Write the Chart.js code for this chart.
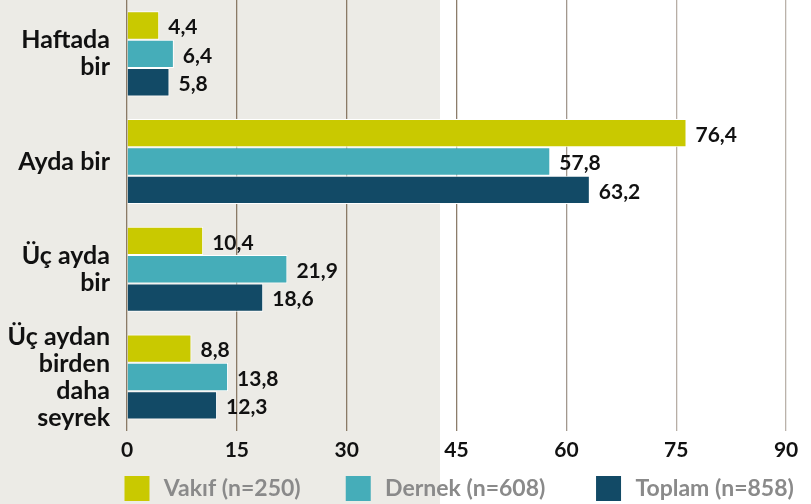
<!DOCTYPE html>
<html>
<head>
<meta charset="utf-8">
<script src="https://cdn.jsdelivr.net/npm/chart.js@4"></script>
<style>
  html, body { margin: 0; padding: 0; background: #fff; }
  #wrap { width: 811px; height: 504px; }
</style>
</head>
<body>
<div id="wrap"><canvas id="chart" width="811" height="504"></canvas></div>
<script>
// categories and series
const categories = [
    ['Haftada', 'bir'],
    ['Ayda bir'],
    ['Üç ayda', 'bir'],
    ['Üç aydan', 'birden', 'daha', 'seyrek']
];
const vakif = [4.4, 76.4, 10.4, 8.8];
const dernek = [6.4, 57.8, 21.9, 13.8];
const toplam = [5.8, 63.2, 18.6, 12.3];
const seriesNames = ['Vakıf (n=250)', 'Dernek (n=608)', 'Toplam (n=858)'];
const seriesColors = ['#c9c900', '#45adb9', '#124a66'];
const xTicks = [0, 15, 30, 45, 60, 75, 90];
const xMax = 93.4;

const gridColors = ['#8a7a66', '#8a7a66', '#8a7a66', '#8c7d6b', '#a2988e', '#b7aea6', '#bab2aa'];
const fontFamily = 'Lato, "Open Sans", sans-serif';
// extra spacing after each legend entry (non-breaking spaces)
const legendGaps = [7, 8, 2];

// gray panel on the left + white elsewhere
const backgroundPanel = {
    id: 'backgroundPanel',
    beforeDraw(chart) {
        const ctx = chart.ctx;
        ctx.save();
        ctx.fillStyle = '#ffffff';
        ctx.fillRect(0, 0, chart.width, chart.height);
        ctx.fillStyle = '#ecebe6';
        ctx.fillRect(0, 0, 440, chart.height);
        ctx.restore();
    }
};

// value labels to the right of bars
const valueLabels = {
    id: 'valueLabels',
    afterDatasetsDraw(chart) {
        const ctx = chart.ctx;
        ctx.save();
        ctx.font = 'bold 21px ' + fontFamily;
        ctx.fillStyle = '#111';
        ctx.textBaseline = 'middle';
        ctx.textAlign = 'left';
        chart.data.datasets.forEach((ds, i) => {
            chart.getDatasetMeta(i).data.forEach((bar, j) => {
                const txt = ds.data[j].toFixed(1).replace('.', ',');
                ctx.fillText(txt, bar.x + 9, bar.y + 2);
            });
        });
        ctx.restore();
    }
};

new Chart(document.getElementById('chart').getContext('2d'), {
    type: 'bar',
    data: {
        labels: categories,
        datasets: [vakif, dernek, toplam].map((d, i) => ({
            label: seriesNames[i],
            data: d,
            backgroundColor: seriesColors[i],
            borderColor: '#ffffff',
            borderWidth: 1,
            barPercentage: 1,
            categoryPercentage: 0.79
        }))
    },
    options: {
        indexAxis: 'y',
        responsive: false,
        animation: false,
        layout: { padding: { top: 0, right: 0, left: 0, bottom: -7 } },
        scales: {
            x: {
                min: 0,
                max: xMax,
                afterBuildTicks(scale) {
                    scale.ticks = xTicks.map(v => ({ value: v }));
                },
                afterFit(scale) { scale.paddingRight = 0; scale.paddingLeft = 0; },
                border: { display: false },
                grid: {
                    drawTicks: false,
                    lineWidth: 1.3,
                    color: ctx => gridColors[ctx.index] || '#b0a89f'
                },
                ticks: {
                    padding: 7,
                    maxRotation: 0,
                    color: '#111',
                    font: { family: fontFamily, size: 21, weight: 'bold' }
                }
            },
            y: {
                border: { display: false },
                grid: { display: false },
                afterFit(scale) {
                    scale.width = 127;
                    scale.paddingTop = 0;
                    scale.paddingBottom = 0;
                },
                ticks: {
                    autoSkip: false,
                    padding: 9,
                    color: '#111',
                    font: { family: fontFamily, size: 25, weight: 'bold', lineHeight: '27px' }
                }
            }
        },
        plugins: {
            legend: {
                position: 'bottom',
                align: 'end',
                labels: {
                    boxWidth: 25,
                    boxHeight: 25,
                    padding: 6,
                    color: '#8a8a8a',
                    font: { family: fontFamily, size: 23, weight: 'bold' },
                    generateLabels(chart) {
                        const items = Chart.defaults.plugins.legend.labels.generateLabels(chart);
                        items.forEach((it, i) => {
                            it.text = '\u2009' + it.text + '\u00a0'.repeat(legendGaps[i]);
                            it.strokeStyle = it.fillStyle;
                            it.lineWidth = 0;
                        });
                        return items;
                    }
                }
            },
            tooltip: { enabled: false }
        }
    },
    plugins: [backgroundPanel, valueLabels]
});
</script>
</body>
</html>
